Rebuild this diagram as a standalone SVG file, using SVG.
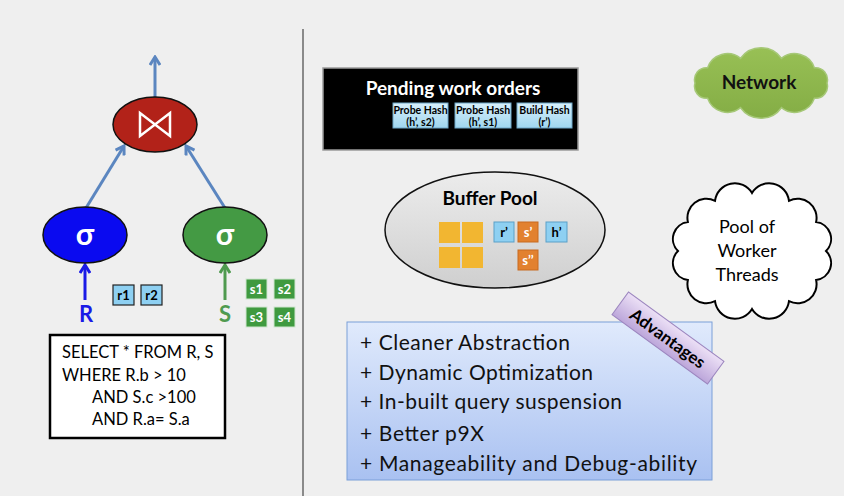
<svg xmlns="http://www.w3.org/2000/svg" width="844" height="496" viewBox="0 0 844 496">
<defs>
<style>
.lato{font-family:Lato,"Open Sans","Liberation Sans",sans-serif}
.b{font-weight:bold}
.conn{stroke:#5b86c0;stroke-width:3;fill:none}
.tag{stroke:#222;stroke-width:1.2}
.wo{fill:url(#woGrad);stroke:#6fa7c8;stroke-width:1}
.wot{font-family:Lato,"Liberation Sans",sans-serif;font-weight:bold;font-size:10.500px;fill:#000;text-anchor:middle}
.yel{fill:#f2b631}
.blu{fill:#8ed0f2;stroke:#5aa0c8;stroke-width:1}
.org{fill:#e2812f;stroke:#c86a20;stroke-width:1}
.tt{font-family:Lato,"Liberation Sans",sans-serif;font-weight:bold;font-size:13px;text-anchor:middle}
.adv{font-family:Lato,"Open Sans","Liberation Sans",sans-serif;font-size:21px;fill:#111}
.sql{font-family:Lato,"Open Sans","Liberation Sans",sans-serif;font-size:16.500px;fill:#000}
</style>
<marker id="ah" viewBox="0 0 12 12" refX="10" refY="6" markerWidth="12" markerHeight="12" markerUnits="userSpaceOnUse" orient="auto">
<polyline points="2,1 10,6 2,11" fill="none" stroke="#5b86c0" stroke-width="3"/>
</marker>
<marker id="ahB" viewBox="0 0 12 12" refX="10" refY="6" markerWidth="12" markerHeight="12" markerUnits="userSpaceOnUse" orient="auto">
<polyline points="2,1 10,6 2,11" fill="none" stroke="#1a1ae6" stroke-width="3"/>
</marker>
<marker id="ahG" viewBox="0 0 12 12" refX="10" refY="6" markerWidth="12" markerHeight="12" markerUnits="userSpaceOnUse" orient="auto">
<polyline points="2,1 10,6 2,11" fill="none" stroke="#4f9a4f" stroke-width="3"/>
</marker>
<linearGradient id="woGrad" x1="0" y1="0" x2="0" y2="1"><stop offset="0" stop-color="#d8f0fb"/><stop offset="1" stop-color="#9fd6ef"/></linearGradient>
<linearGradient id="bpGrad" x1="0" y1="0" x2="0" y2="1"><stop offset="0" stop-color="#ececec"/><stop offset="1" stop-color="#cfcfcf"/></linearGradient>
<linearGradient id="advGrad" x1="0" y1="0" x2="0" y2="1"><stop offset="0" stop-color="#e0eafc"/><stop offset="1" stop-color="#a9c1f1"/></linearGradient>
<linearGradient id="tagGrad" x1="0" y1="0" x2="0" y2="1"><stop offset="0" stop-color="#ece0f6"/><stop offset="1" stop-color="#bca6da"/></linearGradient>
<linearGradient id="netGrad" x1="0" y1="0" x2="0" y2="1"><stop offset="0" stop-color="#98c055"/><stop offset="1" stop-color="#84ad45"/></linearGradient>
</defs>

<rect x="0" y="0" width="844" height="496" fill="#efefef"/>
<line x1="303" y1="29" x2="303" y2="496" stroke="#8a8a8a" stroke-width="2"/>

<g id="connectors">
<line class="conn" x1="155" y1="97" x2="155" y2="57" marker-end="url(#ah)"/>
<line class="conn" x1="86" y1="208" x2="124" y2="146" marker-end="url(#ah)"/>
<line class="conn" x1="225" y1="208" x2="186" y2="146" marker-end="url(#ah)"/>
<line x1="85" y1="300" x2="85" y2="265" stroke="#1a1ae6" stroke-width="3" marker-end="url(#ahB)"/>
<line x1="225" y1="300" x2="225" y2="265" stroke="#4f9a4f" stroke-width="3" marker-end="url(#ahG)"/>
</g>

<g id="join">
<ellipse cx="155" cy="124.500" rx="42" ry="27.500" fill="#b22219" stroke="#111" stroke-width="1.500"/>
<path d="M140 113 L140 136 L170 113 L170 136 Z" fill="none" stroke="#fff" stroke-width="2.500" stroke-linejoin="miter"/>
</g>

<g id="selectR">
<ellipse cx="85" cy="235" rx="42" ry="28" fill="#0a0af0" stroke="#111" stroke-width="1.500"/>
<text x="85" y="245" class="lato b" font-size="30" fill="#fff" text-anchor="middle">σ</text>
</g>
<g id="selectS">
<ellipse cx="225" cy="235" rx="42" ry="28" fill="#449a44" stroke="#111" stroke-width="1.500"/>
<text x="225" y="245" class="lato b" font-size="30" fill="#fff" text-anchor="middle">σ</text>
</g>

<g id="R">
<text x="86" y="322" class="lato b" font-size="22" fill="#1a1ae6" text-anchor="middle">R</text>
</g>
<g id="S">
<text x="225" y="322" class="lato b" font-size="22" fill="#4f9a4f" text-anchor="middle">S</text>
</g>

<g id="rtuples">
<rect class="tag" x="113" y="285" width="21" height="20" fill="#8ed0f2"/>
<text x="123.500" y="300" class="tt" fill="#000">r1</text>
<rect class="tag" x="141" y="285" width="21" height="20" fill="#8ed0f2"/>
<text x="151.500" y="300" class="tt" fill="#000">r2</text>
</g>
<g id="stuples">
<rect x="246" y="279" width="21" height="20" fill="#3f9a3f" stroke="#cfe6cf" stroke-width="1"/>
<text x="256.500" y="294" class="tt" fill="#fff">s1</text>
<rect x="274" y="279" width="21" height="20" fill="#3f9a3f" stroke="#cfe6cf" stroke-width="1"/>
<text x="284.500" y="294" class="tt" fill="#fff">s2</text>
<rect x="246" y="307" width="21" height="20" fill="#3f9a3f" stroke="#cfe6cf" stroke-width="1"/>
<text x="256.500" y="322" class="tt" fill="#fff">s3</text>
<rect x="274" y="307" width="21" height="20" fill="#3f9a3f" stroke="#cfe6cf" stroke-width="1"/>
<text x="284.500" y="322" class="tt" fill="#fff">s4</text>
</g>

<g id="sql">
<rect x="50" y="335" width="175" height="103" fill="#fff" stroke="#000" stroke-width="2.500"/>
<text class="sql" x="62" y="358">SELECT * FROM R, S</text>
<text class="sql" x="62" y="381">WHERE R.b &gt; 10</text>
<text class="sql" x="92" y="403">AND S.c &gt;100</text>
<text class="sql" x="92" y="425">AND R.a= S.a</text>
</g>

<g id="pending">
<rect x="323" y="68" width="255" height="82" fill="#000" stroke="#9a9a9a" stroke-width="1.500"/>
<text x="453" y="95" class="lato b" font-size="19" fill="#fff" text-anchor="middle">Pending work orders</text>
<rect class="wo" x="393" y="103" width="55" height="25"/>
<text class="wot" x="420.500" y="114">Probe Hash</text>
<text class="wot" x="420.500" y="125.500">(h’, s2)</text>
<rect class="wo" x="455" y="103" width="56" height="25"/>
<text class="wot" x="483" y="114">Probe Hash</text>
<text class="wot" x="483" y="125.500">(h’, s1)</text>
<rect class="wo" x="517" y="103" width="55" height="25"/>
<text class="wot" x="544.500" y="114">Build Hash</text>
<text class="wot" x="544.500" y="125.500">(r’)</text>
</g>

<g id="bufferpool">
<ellipse cx="495" cy="230" rx="110" ry="58" fill="url(#bpGrad)" stroke="#111" stroke-width="1.500"/>
<text x="490" y="205" class="lato b" font-size="19" fill="#000" text-anchor="middle">Buffer Pool</text>
<rect class="yel" x="439" y="222" width="21" height="21"/>
<rect class="yel" x="462" y="222" width="21" height="21"/>
<rect class="yel" x="439" y="247" width="21" height="21"/>
<rect class="yel" x="462" y="247" width="21" height="21"/>
<rect class="blu" x="494" y="222" width="20" height="20"/>
<text x="504" y="237" class="tt" fill="#000">r’</text>
<rect class="org" x="518" y="222" width="20" height="20"/>
<text x="528" y="237" class="tt" fill="#fff">s’</text>
<rect class="blu" x="546" y="222" width="21" height="20"/>
<text x="556.500" y="237" class="tt" fill="#000">h’</text>
<rect class="org" x="518" y="250" width="20" height="20"/>
<text x="528" y="265" class="tt" fill="#fff">s’’</text>
</g>

<g id="network">
<path d="M827 83 A12 12 0 0 1 814.400 98.300 A21 21 0 0 1 781.400 107.700 A25 25 0 0 1 740.600 107.700 A21 21 0 0 1 707.600 98.300 A12 12 0 0 1 695 83 A12 12 0 0 1 707.600 67.700 A21 21 0 0 1 740.600 58.300 A25 25 0 0 1 781.400 58.300 A21 21 0 0 1 814.400 67.700 A12 12 0 0 1 827 83 Z" fill="url(#netGrad)" stroke="#a6c878" stroke-width="1.500"/>
<text x="759" y="89" class="lato b" font-size="19" fill="#111" text-anchor="middle">Network</text>
</g>

<g id="workers">
<path d="M826 251 A17 17 0 0 1 816.100 280 A19 19 0 0 1 789 301.200 A20 20 0 0 1 752 309 A20 20 0 0 1 715 301.200 A19 19 0 0 1 687.900 280 A17 17 0 0 1 678 251 A17 17 0 0 1 687.900 222 A19 19 0 0 1 715 200.800 A20 20 0 0 1 752 193 A20 20 0 0 1 789 200.800 A19 19 0 0 1 816.100 222 A17 17 0 0 1 826 251 Z" fill="#fff" stroke="#000" stroke-width="2"/>
<text class="lato" font-size="18" fill="#000" text-anchor="middle"><tspan x="747" y="233">Pool of</tspan><tspan x="747" y="257">Worker</tspan><tspan x="747" y="281">Threads</tspan></text>
</g>

<g id="advantages">
<rect x="347" y="322" width="365" height="158" fill="url(#advGrad)" stroke="#7b9fd8" stroke-width="1"/>
<text class="adv" x="360" y="350" textLength="210">+ Cleaner Abstraction</text>
<text class="adv" x="360" y="380" textLength="233">+ Dynamic Optimization</text>
<text class="adv" x="360" y="409" textLength="262">+ In-built query suspension</text>
<text class="adv" x="360" y="441" textLength="124">+ Better p9X</text>
<text class="adv" x="360" y="471" textLength="337">+ Manageability and Debug-ability</text>
</g>

<g id="advtag" transform="rotate(36 668 338)">
<rect x="609" y="324" width="118" height="28" fill="url(#tagGrad)" stroke="#9c86bf" stroke-width="1"/>
<text x="668" y="344.500" class="lato b" font-size="17" fill="#000" text-anchor="middle">Advantages</text>
</g>
</svg>
